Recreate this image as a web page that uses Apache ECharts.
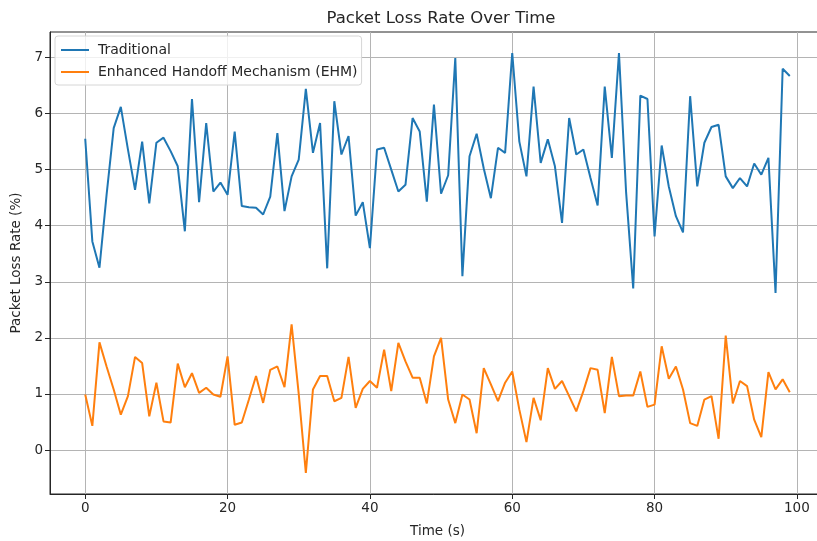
<!DOCTYPE html>
<html>
<head>
<meta charset="utf-8">
<title>Packet Loss Rate Over Time</title>
<script src="https://cdn.jsdelivr.net/npm/echarts@6/dist/echarts.min.js"></script>
<style>
  html, body { margin: 0; padding: 0; background: #fff; }
  #chart { width: 817px; height: 541px; }
</style>
</head>
<body>
<div id="chart"></div>
<script>
// Time steps (s)
const timeSteps = [
  0, 1, 2, 3, 4, 5, 6, 7, 8, 9, 10, 11, 12, 13, 14, 15, 16, 17, 18, 19,
  20, 21, 22, 23, 24, 25, 26, 27, 28, 29, 30, 31, 32, 33, 34, 35, 36, 37, 38, 39,
  40, 41, 42, 43, 44, 45, 46, 47, 48, 49, 50, 51, 52, 53, 54, 55, 56, 57, 58, 59,
  60, 61, 62, 63, 64, 65, 66, 67, 68, 69, 70, 71, 72, 73, 74, 75, 76, 77, 78, 79,
  80, 81, 82, 83, 84, 85, 86, 87, 88, 89, 90, 91, 92, 93, 94, 95, 96, 97, 98, 99
];

// Packet loss (%) with the traditional handoff
const traditionalLoss = [
  5.55, 3.72, 3.25, 4.55, 5.74, 6.12, 5.36, 4.64, 5.50, 4.40,
  5.48, 5.57, 5.33, 5.06, 3.90, 6.26, 4.42, 5.83, 4.61, 4.77,
  4.55, 5.68, 4.35, 4.33, 4.32, 4.20, 4.52, 5.65, 4.26, 4.88,
  5.18, 6.44, 5.30, 5.83, 3.24, 6.22, 5.27, 5.60, 4.18, 4.42,
  3.60, 5.36, 5.39, 5.00, 4.61, 4.73, 5.92, 5.68, 4.43, 6.16,
  4.57, 4.90, 6.99, 3.10, 5.24, 5.64, 5.02, 4.49, 5.39, 5.30,
  7.08, 5.50, 4.88, 6.48, 5.12, 5.54, 5.06, 4.05, 5.92, 5.27,
  5.36, 4.85, 4.36, 6.48, 5.21, 7.08, 4.60, 2.88, 6.32, 6.26,
  3.81, 5.43, 4.70, 4.17, 3.88, 6.31, 4.70, 5.48, 5.76, 5.80,
  4.88, 4.67, 4.85, 4.70, 5.11, 4.91, 5.21, 2.80, 6.80, 6.67
];

// Packet loss (%) with the Enhanced Handoff Mechanism
const ehmLoss = [
  0.99, 0.43, 1.92, 1.49, 1.08, 0.63, 0.96, 1.66, 1.55, 0.60,
  1.20, 0.51, 0.49, 1.54, 1.12, 1.37, 1.02, 1.11, 0.99, 0.95,
  1.67, 0.45, 0.49, 0.90, 1.32, 0.84, 1.43, 1.49, 1.12, 2.24,
  1.00, -0.41, 1.08, 1.32, 1.32, 0.87, 0.93, 1.66, 0.75, 1.09,
  1.23, 1.11, 1.79, 1.05, 1.91, 1.58, 1.29, 1.29, 0.83, 1.67,
  2.00, 0.90, 0.48, 0.99, 0.90, 0.30, 1.46, 1.17, 0.87, 1.20,
  1.40, 0.72, 0.14, 0.93, 0.53, 1.46, 1.09, 1.23, 0.96, 0.69,
  1.05, 1.46, 1.43, 0.66, 1.66, 0.96, 0.97, 0.97, 1.40, 0.77,
  0.81, 1.85, 1.27, 1.49, 1.08, 0.48, 0.43, 0.90, 0.96, 0.20,
  2.04, 0.83, 1.23, 1.14, 0.54, 0.23, 1.39, 1.08, 1.26, 1.03
];

const seriesNames = ['Traditional', 'Enhanced Handoff Mechanism (EHM)'];
const xTicks = [0, 20, 40, 60, 80, 100];
const yTicks = [0, 1, 2, 3, 4, 5, 6, 7];

// Axis limits padded 5% beyond the data, like the plotting default
function padded(values) {
  const lo = Math.min.apply(null, values), hi = Math.max.apply(null, values);
  const m = (hi - lo) * 0.05;
  return [lo - m, hi + m];
}
const xLim = padded(timeSteps);
const yLim = padded(traditionalLoss.concat(ehmLoss));

const FONT = 'DejaVu Sans';
const INK = '#262626';

const chart = echarts.init(document.getElementById('chart'), null, { renderer: 'canvas' });
chart.setOption({
  animation: false,
  backgroundColor: '#ffffff',
  textStyle: { fontFamily: FONT },
  title: {
    text: 'Packet Loss Rate Over Time',
    left: 436, top: 5, textAlign: 'center',
    textStyle: { fontFamily: FONT, fontSize: 16.5, fontWeight: 'normal', color: INK }
  },
  legend: {
    orient: 'vertical',
    left: 55, top: 36,
    padding: [7, 4, 6, 6],
    itemGap: 8,
    itemWidth: 28, itemHeight: 2,
    icon: 'rect',
    backgroundColor: 'rgba(255,255,255,0.8)',
    borderColor: '#d6d6d6', borderWidth: 1, borderRadius: 3,
    textStyle: { fontFamily: FONT, fontSize: 14, color: INK, padding: [0, 0, 0, 4] },
    data: seriesNames
  },
  grid: {
    show: true,
    outerBoundsMode: 'none',
    left: 50, top: 32, width: 775, height: 462,
    borderColor: INK, borderWidth: 1,
    backgroundColor: 'transparent'
  },
  xAxis: {
    type: 'value',
    min: xLim[0], max: xLim[1],
    name: 'Time (s)',
    nameLocation: 'middle', nameGap: 30,
    nameTextStyle: { fontFamily: FONT, fontSize: 13.5, color: INK },
    axisLine: { show: true, onZero: false, lineStyle: { color: INK, width: 1 } },
    axisTick: { show: true, customValues: xTicks, length: 5, lineStyle: { color: INK } },
    axisLabel: { customValues: xTicks, fontFamily: FONT, fontSize: 13.5, color: INK, margin: 7 },
    splitLine: { show: true, lineStyle: { color: '#b4b4b4', width: 1 } }
  },
  yAxis: {
    type: 'value',
    min: yLim[0], max: yLim[1],
    name: 'Packet Loss Rate (%)',
    nameLocation: 'middle', nameGap: 24, nameRotate: 90,
    nameTextStyle: { fontFamily: FONT, fontSize: 13.5, color: INK },
    axisLine: { show: true, onZero: false, lineStyle: { color: INK, width: 1 } },
    axisTick: { show: true, customValues: yTicks, length: 5, lineStyle: { color: INK } },
    axisLabel: { customValues: yTicks, fontFamily: FONT, fontSize: 13.5, color: INK, margin: 7 },
    splitLine: { show: true, lineStyle: { color: '#b4b4b4', width: 1 } }
  },
  series: [
    {
      name: seriesNames[0],
      type: 'line',
      symbol: 'none',
      color: '#1f77b4',
      lineStyle: { width: 2, color: '#1f77b4' },
      data: timeSteps.map((t, i) => [t, traditionalLoss[i]])
    },
    {
      name: seriesNames[1],
      type: 'line',
      symbol: 'none',
      color: '#ff7f0e',
      lineStyle: { width: 2, color: '#ff7f0e' },
      data: timeSteps.map((t, i) => [t, ehmLoss[i]])
    }
  ]
});
</script>
</body>
</html>
